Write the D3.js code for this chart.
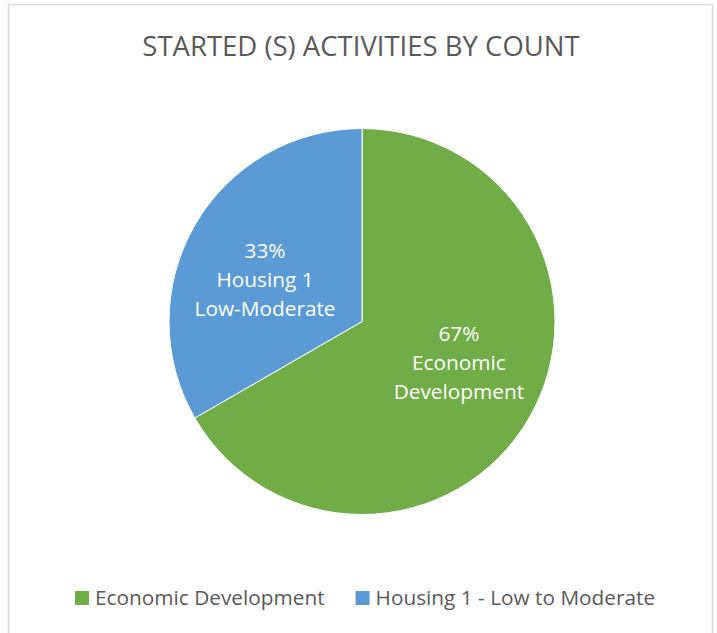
<!DOCTYPE html>
<html>
<head>
<meta charset="utf-8">
<script src="https://cdn.jsdelivr.net/npm/d3@7"></script>
<style>
  html, body { margin: 0; padding: 0; background: #ffffff; }
  svg { display: block; }
  text { font-family: "Open Sans", sans-serif; }
</style>
</head>
<body>
<svg id="chart" width="717" height="633"></svg>
<script>
// ---- data ----
const titleText = "STARTED (S) ACTIVITIES BY COUNT";
const categories = ["Economic Development", "Housing 1 - Low to Moderate"];
const labelNames = [["Economic", "Development"], ["Housing 1", "Low-Moderate"]];
const counts = [2, 1];
const colors = ["#70AD47", "#5B9BD5"];

// ---- layout ----
const W = 717, H = 633;
const cx = 362, cy = 321.5, R = 193;
const svg = d3.select("#chart");

// frame
svg.append("rect")
  .attr("x", 8.5).attr("y", 4.5)
  .attr("width", 704).attr("height", 650)
  .attr("fill", "#fff")
  .attr("stroke", "#d9d9d9").attr("stroke-width", 1.5);

// title
svg.append("text")
  .attr("x", 361).attr("y", 56)
  .attr("text-anchor", "middle")
  .attr("font-size", 27.5)
  .attr("fill", "#595959")
  .text(titleText);

const data = categories.map((c, i) => ({ name: c, value: counts[i], label: labelNames[i], color: colors[i] }));
const total = d3.sum(counts);
const pct = d3.format(".0%");

const pie = d3.pie().sort(null).value(d => d.value).startAngle(0).endAngle(2 * Math.PI);
const arc = d3.arc().innerRadius(0).outerRadius(R);
const arcs = pie(data);

const g = svg.append("g").attr("transform", `translate(${cx},${cy})`);
g.selectAll("path.slice")
  .data(arcs)
  .join("path")
  .attr("class", "slice")
  .attr("d", arc)
  .attr("fill", d => d.data.color)
  .attr("stroke", "#ffffff")
  .attr("stroke-width", 1);

// labels
const lineH = 28.7;
arcs.forEach(a => {
  const mid = (a.startAngle + a.endAngle) / 2;
  const lx = Math.sin(mid) * R * 0.58;
  const ly = -Math.cos(mid) * R * 0.43;
  const lines = [pct(a.data.value / total)].concat(a.data.label);
  const t = g.append("text")
    .attr("text-anchor", "middle")
    .attr("font-size", 20.8)
    .attr("fill", "#ffffff");
  lines.forEach((s, i) => {
    t.append("tspan")
      .attr("x", lx)
      .attr("y", ly + 7 + (i - (lines.length - 1) / 2) * lineH)
      .text(s);
  });
});

// legend
const legend = svg.append("g").attr("transform", "translate(75,591)");
let xoff = 0;
data.forEach(d => {
  const item = legend.append("g").attr("transform", `translate(${xoff},0)`);
  item.append("rect")
    .attr("x", 0).attr("y", 0)
    .attr("width", 14).attr("height", 14)
    .attr("fill", d.color);
  const t = item.append("text")
    .attr("x", 20).attr("y", 14)
    .attr("font-size", 20.8)
    .attr("fill", "#595959")
    .text(d.name);
  xoff += 20 + t.node().getComputedTextLength() + 31;
});
</script>
</body>
</html>
